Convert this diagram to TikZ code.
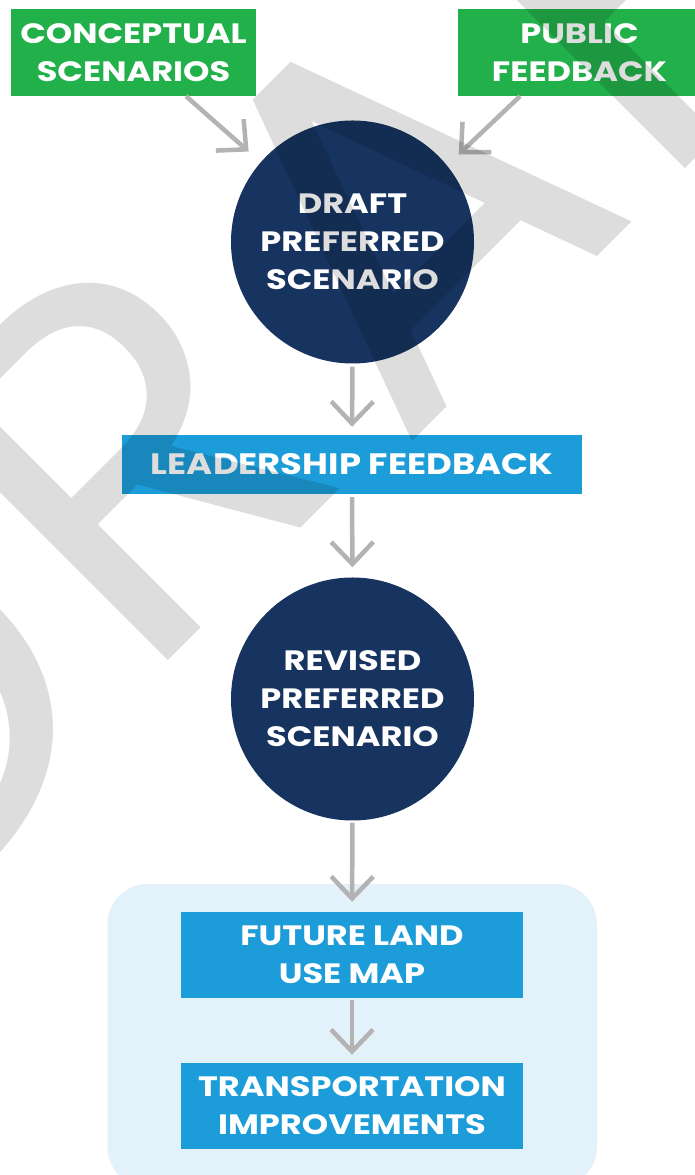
\documentclass[tikz,border=0pt]{standalone}
\usepackage{fontspec}
\setmainfont{Poppins}
\newfontfamily\labelfont{Poppins}[FakeStretch=1.2]
\usetikzlibrary{arrows.meta}

\definecolor{boxgreen}{HTML}{22B04B}
\definecolor{navy}{HTML}{17335F}
\definecolor{boxblue}{HTML}{1C9CD8}
\definecolor{panelblue}{HTML}{E3F1FA}
\definecolor{arrowgray}{HTML}{B3B3B3}

\tikzset{
    label font/.style={font=\labelfont\bfseries\fontsize{28}{38}\selectfont},
    greenbox/.style={fill=boxgreen, text=white, label font, align=center,
        minimum width=245pt, minimum height=87pt, inner sep=0pt},
    bluebox/.style={fill=boxblue, text=white, label font, align=center,
        minimum width=342pt, minimum height=86pt, inner sep=0pt},
    scenario/.style={circle, fill=navy, text=white, label font, align=center,
        minimum size=243pt, inner sep=0pt},
    flow/.style={draw=arrowgray, line width=4.5pt,
        -{Straight Barb[length=22pt, width=42pt]}},
    watermark/.style={text=black, text opacity=0.135, inner sep=0pt,
        font=\fontsize{511}{511}\selectfont, rotate=45, anchor=base}
}

\begin{document}
\begin{tikzpicture}[x=1pt, y=1pt]
    \useasboundingbox (0,0) rectangle (694,1175);

    % light panel behind the last two steps
    \fill[panelblue, rounded corners=40pt] (107.5,-12) rectangle (597,291);

    \node[greenbox] (concept) at (133.5,1122.5) {CONCEPTUAL\\SCENARIOS};
    \node[greenbox, minimum width=244pt] (public) at (579.5,1122.5) {PUBLIC\\FEEDBACK};
    \node[scenario] (draft) at (352.5,933) {DRAFT\\PREFERRED\\SCENARIO};
    \node[bluebox, minimum width=460pt, minimum height=59pt,
        font=\labelfont\bfseries\fontsize{29.5}{38}\selectfont] (lead) at (352,710.5)
        {LEADERSHIP FEEDBACK};
    \node[scenario] (revised) at (352.5,476) {REVISED\\PREFERRED\\SCENARIO};
    \node[bluebox] (landuse) at (352,220) {FUTURE LAND\\USE MAP};
    \node[bluebox] (transport) at (352,69) {TRANSPORTATION\\IMPROVEMENTS};

    % arrows
    \draw[flow, shorten >=16pt] ([xshift=52.5pt]concept.south) -- (draft.139);
    \draw[flow, shorten >=16pt] ([xshift=-59.5pt]public.south) -- (draft.39);
    \draw[flow, shorten <=3pt, shorten >=8pt] (draft.south) -- (lead.north);
    \draw[flow, shorten <=3pt, shorten >=10pt] (lead.south) -- (revised.north);
    \draw[flow, shorten <=2pt, shorten >=10pt] (revised.south) -- (landuse.north);
    \draw[flow, shorten <=2pt, shorten >=8pt] (landuse.south) -- (transport.north);

    % DRAFT stamp over everything
    \foreach \ch/\px/\py in {D/10/331, R/250/596, A/522.5/843.5, F/748.5/1069.5, T/950/1271} {
        \node[watermark] at (\px,\py) {\ch};
    }
\end{tikzpicture}
\end{document}
